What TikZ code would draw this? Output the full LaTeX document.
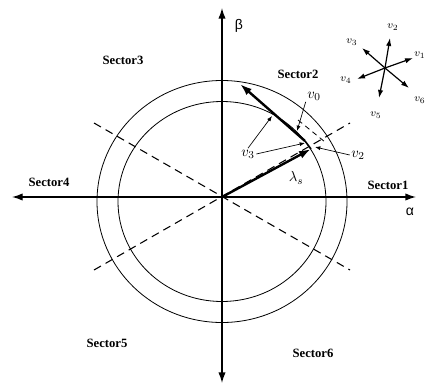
\documentclass[tikz,border=0pt]{standalone}
\usepackage{fontspec}
\setmainfont{Liberation Serif}
\setsansfont{Liberation Sans}
\usetikzlibrary{arrows.meta, positioning, calc}

\begin{document}
\begin{tikzpicture}[
  x=0.75pt, y=-0.75pt,
  axis/.style={{Latex[length=8pt,width=5.5pt]}-{Latex[length=8pt,width=5.5pt]}, line width=1pt},
  ring/.style={line width=0.6pt},
  sect/.style={dash pattern=on 6pt off 4pt, line width=0.8pt},
  vec/.style={-{Latex[length=9pt,width=6pt]}, line width=1.8pt},
  ptr/.style={-{Latex[length=4pt,width=3pt]}, line width=0.5pt},
  arm/.style={-{Latex[length=6pt,width=4pt]}, line width=0.9pt},
  sec/.style={font=\fontsize{9.5}{11}\selectfont\bfseries, inner sep=0pt},
  lbl/.style={font=\fontsize{11}{12}\selectfont, inner sep=1pt},
  tip/.style={font=\fontsize{8}{9}\selectfont, inner sep=0.5pt},
  grk/.style={font=\sffamily\fontsize{10.5}{11}\selectfont, inner sep=0pt},
]
  \useasboundingbox (0,0) rectangle (427,385);

  % axes
  \coordinate (O) at (222,197);
  \coordinate (W) at (12,197);
  \coordinate (E) at (416,197);
  \coordinate (N) at (222,8);
  \coordinate (S) at (222,383);
  \draw[axis] (W) -- (E);
  \draw[axis] (S) -- (N);
  \node[grk] (alpha) at (410,212) {α};
  \node[grk] (beta)  at (239,26)  {β};

  % limit circles
  \draw[ring] (222,201.5) ellipse [x radius=93.75pt, y radius=90.75pt];
  \draw[ring] (222,201.5) ellipse [x radius=78pt, y radius=75pt];

  % sector borders
  \draw[sect] (94,270) -- (350,123);
  \draw[sect] (94,123) -- (350,270);

  \node[sec] (s1) at (388,185) {Sector1};
  \node[sec] (s2) at (298,74)  {Sector2};
  \node[sec] (s3) at (123,60)  {Sector3};
  \node[sec] (s4) at (49,182)  {Sector4};
  \node[sec] (s5) at (107,343) {Sector5};
  \node[sec] (s6) at (313,353) {Sector6};

  % flux and applied vector
  \coordinate (Ls)  at (311,149);
  \coordinate (V3s) at (305,141);
  \coordinate (V3e) at (240,84);
  \draw[vec] (O) -- (Ls);
  \draw[line width=1.2pt] (Ls) -- (V3s);
  \draw[vec] (V3s) -- (V3e);
  \draw[dash pattern=on 4pt off 3pt, line width=0.6pt] (298,120) -- (325,142);

  \node[lbl] (ls) at (296,178) {$\lambda_s$};
  \node[lbl] (v0) at (314,96)  {$v_0$};
  \node[lbl] (v3) at (248,154) {$v_3$};
  \node[lbl] (v2) at (358,155) {$v_2$};
  \coordinate (p0)  at (297,131);
  \coordinate (p3a) at (272,116);
  \coordinate (p3b) at (305,143);
  \coordinate (p2)  at (315,147);
  \draw[ptr] (v0.south west) -- (p0);
  \draw[ptr] (v3.north) -- (p3a);
  \draw[ptr] (v3.east) -- (p3b);
  \draw[ptr] (v2.west) -- (p2);

  % inverter vectors
  \coordinate (C) at (385,68);
  \draw[arm] (C) -- (413,58);
  \draw[arm] (C) -- (390,38);
  \draw[arm] (C) -- (362,48);
  \draw[arm] (C) -- (357,79);
  \draw[arm] (C) -- (379,98);
  \draw[arm] (C) -- (409,88);
  \node[tip] (a1) at (420,55)  {$v_1$};
  \node[tip] (a2) at (393,27)  {$v_2$};
  \node[tip] (a3) at (352,42)  {$v_3$};
  \node[tip] (a4) at (346,80)  {$v_4$};
  \node[tip] (a5) at (376,115) {$v_5$};
  \node[tip] (a6) at (420,100) {$v_6$};
\end{tikzpicture}
\end{document}
